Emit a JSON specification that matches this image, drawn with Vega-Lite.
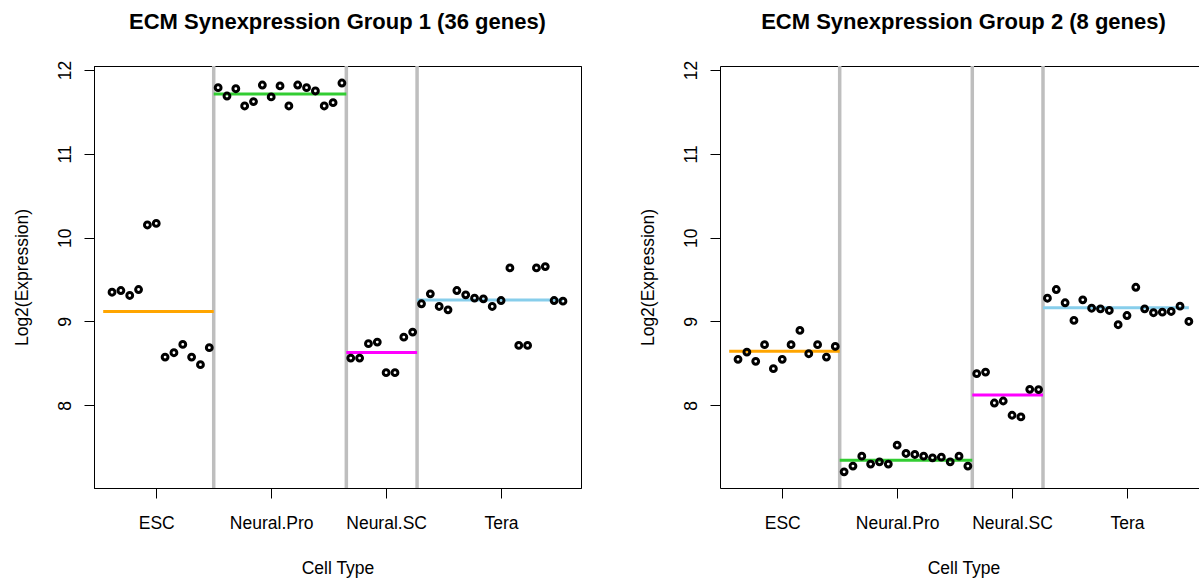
{
  "$schema": "https://vega.github.io/schema/vega-lite/v6.json",
  "padding": {"left": 12, "top": 10, "right": 0, "bottom": 0},
  "background": "white",
  "spacing": 57,
  "datasets": {
    "bounds": [{"b": 12.5}, {"b": 27.5}, {"b": 35.5}],
    "seg1": [
      {"type": "ESC", "x0": 0, "x1": 12.5, "m": 9.12},
      {"type": "Neural.Pro", "x0": 12.5, "x1": 27.5, "m": 11.715},
      {"type": "Neural.SC", "x0": 27.5, "x1": 35.5, "m": 8.63},
      {"type": "Tera", "x0": 35.5, "x1": 52, "m": 9.257}
    ],
    "seg2": [
      {"type": "ESC", "x0": 0, "x1": 12.5, "m": 8.645},
      {"type": "Neural.Pro", "x0": 12.5, "x1": 27.5, "m": 7.345},
      {"type": "Neural.SC", "x0": 27.5, "x1": 35.5, "m": 8.123},
      {"type": "Tera", "x0": 35.5, "x1": 52, "m": 9.163}
    ],
    "pts1": [
      {"i": 1, "v": 9.349}, {"i": 2, "v": 9.369}, {"i": 3, "v": 9.310}, {"i": 4, "v": 9.381},
      {"i": 5, "v": 10.151}, {"i": 6, "v": 10.170}, {"i": 7, "v": 8.575}, {"i": 8, "v": 8.627},
      {"i": 9, "v": 8.726}, {"i": 10, "v": 8.575}, {"i": 11, "v": 8.485}, {"i": 12, "v": 8.687},
      {"i": 13, "v": 11.789}, {"i": 14, "v": 11.690}, {"i": 15, "v": 11.777}, {"i": 16, "v": 11.571},
      {"i": 17, "v": 11.623}, {"i": 18, "v": 11.821}, {"i": 19, "v": 11.679}, {"i": 20, "v": 11.810},
      {"i": 21, "v": 11.571}, {"i": 22, "v": 11.821}, {"i": 23, "v": 11.789}, {"i": 24, "v": 11.75},
      {"i": 25, "v": 11.571}, {"i": 26, "v": 11.611}, {"i": 27, "v": 11.845},
      {"i": 28, "v": 8.563}, {"i": 29, "v": 8.563}, {"i": 30, "v": 8.735}, {"i": 31, "v": 8.754},
      {"i": 32, "v": 8.389}, {"i": 33, "v": 8.389}, {"i": 34, "v": 8.813}, {"i": 35, "v": 8.873},
      {"i": 36, "v": 9.211}, {"i": 37, "v": 9.330}, {"i": 38, "v": 9.179}, {"i": 39, "v": 9.139},
      {"i": 40, "v": 9.369}, {"i": 41, "v": 9.318}, {"i": 42, "v": 9.278}, {"i": 43, "v": 9.270},
      {"i": 44, "v": 9.179}, {"i": 45, "v": 9.25}, {"i": 46, "v": 9.639}, {"i": 47, "v": 8.714},
      {"i": 48, "v": 8.714}, {"i": 49, "v": 9.639}, {"i": 50, "v": 9.655}, {"i": 51, "v": 9.25},
      {"i": 52, "v": 9.242}
    ],
    "pts2": [
      {"i": 1, "v": 8.548}, {"i": 2, "v": 8.635}, {"i": 3, "v": 8.524}, {"i": 4, "v": 8.723},
      {"i": 5, "v": 8.437}, {"i": 6, "v": 8.548}, {"i": 7, "v": 8.723}, {"i": 8, "v": 8.893},
      {"i": 9, "v": 8.615}, {"i": 10, "v": 8.723}, {"i": 11, "v": 8.575}, {"i": 12, "v": 8.702},
      {"i": 13, "v": 7.206}, {"i": 14, "v": 7.274}, {"i": 15, "v": 7.393}, {"i": 16, "v": 7.298},
      {"i": 17, "v": 7.325}, {"i": 18, "v": 7.298}, {"i": 19, "v": 7.524}, {"i": 20, "v": 7.425},
      {"i": 21, "v": 7.413}, {"i": 22, "v": 7.393}, {"i": 23, "v": 7.373}, {"i": 24, "v": 7.381},
      {"i": 25, "v": 7.325}, {"i": 26, "v": 7.393}, {"i": 27, "v": 7.274},
      {"i": 28, "v": 8.377}, {"i": 29, "v": 8.396}, {"i": 30, "v": 8.027}, {"i": 31, "v": 8.051},
      {"i": 32, "v": 7.881}, {"i": 33, "v": 7.861}, {"i": 34, "v": 8.190}, {"i": 35, "v": 8.187},
      {"i": 36, "v": 9.277}, {"i": 37, "v": 9.381}, {"i": 38, "v": 9.223}, {"i": 39, "v": 9.012},
      {"i": 40, "v": 9.258}, {"i": 41, "v": 9.158}, {"i": 42, "v": 9.151}, {"i": 43, "v": 9.131},
      {"i": 44, "v": 8.961}, {"i": 45, "v": 9.071}, {"i": 46, "v": 9.408}, {"i": 47, "v": 9.151},
      {"i": 48, "v": 9.104}, {"i": 49, "v": 9.111}, {"i": 50, "v": 9.119}, {"i": 51, "v": 9.182},
      {"i": 52, "v": 9.0}
    ]
  },
  "hconcat": [
    {
      "width": 487,
      "height": 422,
      "view": {"stroke": "black", "strokeWidth": 1},
      "title": {"text": "ECM Synexpression Group 1 (36 genes)", "frame": "group", "anchor": "middle", "baseline": "alphabetic", "offset": 9, "dx": 0},
      "resolve": {"axis": {"x": "independent"}},
      "layer": [
        {
          "data": {"name": "bounds"},
          "mark": {"type": "rule", "color": "#BEBEBE", "strokeWidth": 3.5},
          "encoding": {
            "x": {"field": "b", "type": "quantitative", "scale": {"domain": [-1.04, 54.04], "nice": false, "zero": false},
                  "axis": {"orient": "top", "labels": false, "ticks": false, "domain": true, "title": null, "grid": false}}
          }
        },
        {
          "data": {"name": "seg1"},
          "mark": {"type": "rule", "strokeWidth": 3},
          "encoding": {
            "x": {"field": "x0", "type": "quantitative", "axis": null},
            "x2": {"field": "x1"},
            "y": {"field": "m", "type": "quantitative", "title": "Log2(Expression)", "scale": {"domain": [7.013, 12.048], "nice": false, "zero": false},
                  "axis": {"values": [8, 9, 10, 11, 12]}},
            "color": {"field": "type", "type": "nominal", "legend": null,
                      "scale": {"domain": ["ESC", "Neural.Pro", "Neural.SC", "Tera"], "range": ["#FFA500", "#32CD32", "#FF00FF", "#87CEEB"]}}
          }
        },
        {
          "data": {"name": "pts1"},
          "mark": {"type": "point", "shape": "circle", "filled": false, "color": "black", "strokeWidth": 3, "size": 34, "opacity": 1},
          "encoding": {
            "x": {"field": "i", "type": "quantitative", "title": "Cell Type",
                  "axis": {"orient": "bottom", "titleX": 243.5, "values": [6, 19, 32, 45],
                           "labelExpr": "datum.value == 6 ? 'ESC' : datum.value == 19 ? 'Neural.Pro' : datum.value == 32 ? 'Neural.SC' : 'Tera'"}},
            "y": {"field": "v", "type": "quantitative", "title": "Log2(Expression)", "axis": {"values": [8, 9, 10, 11, 12]}}
          }
        }
      ]
    },
    {
      "width": 480,
      "height": 422,
      "view": {"stroke": null},
      "title": {"text": "ECM Synexpression Group 2 (8 genes)", "frame": "group", "anchor": "middle", "baseline": "alphabetic", "offset": 9, "dx": 3.5},
      "resolve": {"axis": {"x": "independent"}},
      "layer": [
        {
          "data": {"name": "bounds"},
          "mark": {"type": "rule", "color": "#BEBEBE", "strokeWidth": 3.5},
          "encoding": {
            "x": {"field": "b", "type": "quantitative", "scale": {"domain": [-1.04, 53.26], "nice": false, "zero": false},
                  "axis": {"orient": "top", "labels": false, "ticks": false, "domain": true, "title": null, "grid": false}}
          }
        },
        {
          "data": {"name": "seg2"},
          "mark": {"type": "rule", "strokeWidth": 3},
          "encoding": {
            "x": {"field": "x0", "type": "quantitative", "axis": null},
            "x2": {"field": "x1"},
            "y": {"field": "m", "type": "quantitative", "title": "Log2(Expression)", "scale": {"domain": [7.013, 12.048], "nice": false, "zero": false},
                  "axis": {"values": [8, 9, 10, 11, 12]}},
            "color": {"field": "type", "type": "nominal", "legend": null,
                      "scale": {"domain": ["ESC", "Neural.Pro", "Neural.SC", "Tera"], "range": ["#FFA500", "#32CD32", "#FF00FF", "#87CEEB"]}}
          }
        },
        {
          "data": {"name": "pts2"},
          "mark": {"type": "point", "shape": "circle", "filled": false, "color": "black", "strokeWidth": 3, "size": 34, "opacity": 1},
          "encoding": {
            "x": {"field": "i", "type": "quantitative", "title": "Cell Type",
                  "axis": {"orient": "bottom", "titleX": 243.5, "values": [6, 19, 32, 45],
                           "labelExpr": "datum.value == 6 ? 'ESC' : datum.value == 19 ? 'Neural.Pro' : datum.value == 32 ? 'Neural.SC' : 'Tera'"}},
            "y": {"field": "v", "type": "quantitative", "title": "Log2(Expression)", "axis": {"values": [8, 9, 10, 11, 12]}}
          }
        }
      ]
    }
  ],
  "config": {
    "font": "Liberation Sans",
    "title": {"font": "Liberation Sans", "fontSize": 22, "fontWeight": "bold", "color": "black"},
    "axis": {
      "grid": false,
      "domainColor": "black", "domainWidth": 1,
      "tickColor": "black", "tickWidth": 1, "tickSize": 10,
      "labelFont": "Liberation Sans", "labelFontSize": 17.5, "labelColor": "black",
      "titleFont": "Liberation Sans", "titleFontSize": 17.5, "titleFontWeight": "normal", "titleColor": "black"
    },
    "axisX": {
      "labelBaseline": "alphabetic", "labelPadding": 30, "labelAlign": "center", "labelAngle": 0,
      "labelOverlap": false, "labelFlush": false,
      "titleBaseline": "alphabetic", "titleY": 85.6, "titleAlign": "center"
    },
    "axisY": {
      "labelAngle": 270, "labelAlign": "center", "labelBaseline": "alphabetic", "labelPadding": 14,
      "labelOverlap": false, "labelFlush": false,
      "titleAngle": 270, "titleBaseline": "alphabetic", "titleAlign": "center", "titleX": -66.7, "titleY": 211
    }
  }
}
